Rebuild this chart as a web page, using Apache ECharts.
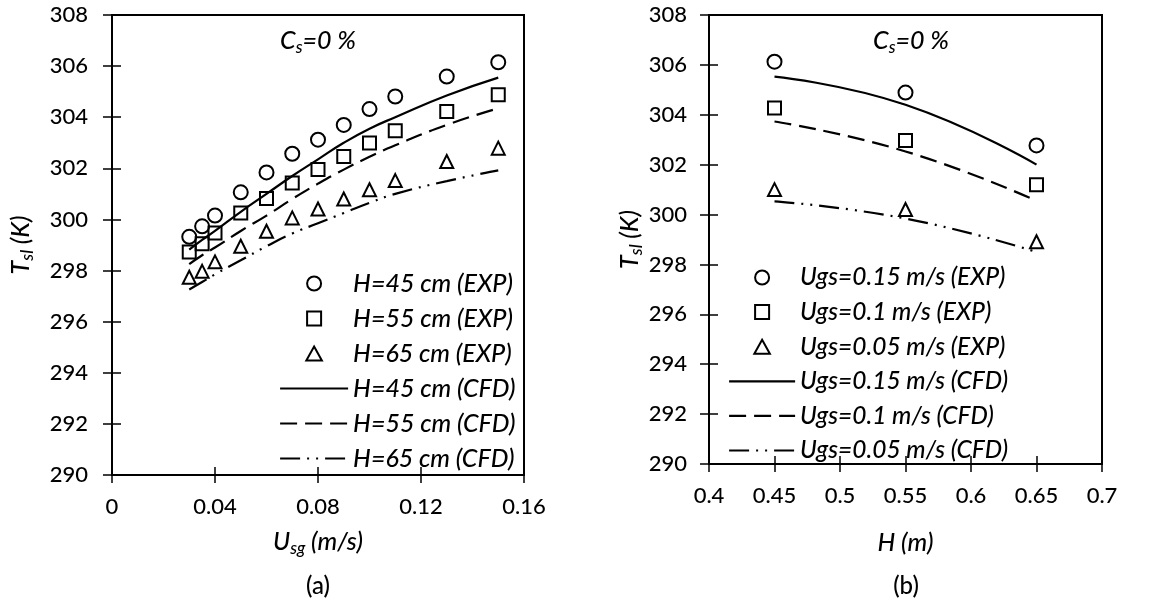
<!DOCTYPE html>
<html>
<head>
<meta charset="utf-8">
<script src="https://cdn.jsdelivr.net/npm/echarts@6/dist/echarts.min.js"></script>
<style>
  html, body { margin: 0; padding: 0; background: #fff; }
  #chart { width: 1151px; height: 604px; }
</style>
</head>
<body>
<div id="chart"></div>
<script>
// (a) slurry temperature vs superficial gas velocity
const usg = [0.03, 0.035, 0.04, 0.05, 0.06, 0.07, 0.08, 0.09, 0.10, 0.11, 0.13, 0.15];
const expH45 = [299.32, 299.73, 300.15, 301.06, 301.84, 302.57, 303.12, 303.70, 304.32, 304.81, 305.59, 306.15];
const expH55 = [298.73, 299.05, 299.47, 300.25, 300.82, 301.43, 301.95, 302.46, 302.99, 303.47, 304.22, 304.88];
const expH65 = [297.74, 297.97, 298.34, 298.95, 299.54, 300.06, 300.41, 300.80, 301.16, 301.52, 302.27, 302.79];
const cfdH45 = [298.82, 299.20, 299.55, 300.30, 301.00, 301.70, 302.35, 303.00, 303.55, 304.00, 304.85, 305.55];
const cfdH55 = [298.25, 298.60, 298.90, 299.55, 300.15, 300.80, 301.40, 301.95, 302.45, 302.90, 303.70, 304.35];
const cfdH65 = [297.26, 297.55, 297.85, 298.40, 298.95, 299.45, 299.85, 300.25, 300.65, 301.00, 301.50, 301.92];

// (b) slurry temperature vs static height
const heights = [0.45, 0.55, 0.65];
const expU015 = [306.13, 304.89, 302.77];
const expU010 = [304.27, 302.97, 301.19];
const expU005 = [301.00, 300.20, 298.91];
const cfdU015 = [305.53, 304.40, 302.00];
const cfdU010 = [303.73, 302.53, 300.55];
const cfdU005 = [300.53, 299.84, 298.50];

const namesA = ['H=45 cm (EXP)', 'H=55 cm (EXP)', 'H=65 cm (EXP)', 'H=45 cm (CFD)', 'H=55 cm (CFD)', 'H=65 cm (CFD)'];
const namesB = ['Ugs=0.15 m/s (EXP)', 'Ugs=0.1 m/s (EXP)', 'Ugs=0.05 m/s (EXP)', 'Ugs=0.15 m/s (CFD)', 'Ugs=0.1 m/s (CFD)', 'Ugs=0.05 m/s (CFD)'];

const FONT = 'Lato';
const WEIGHT = 500;
const INK = '#000';
const TICK_SIZE = 22;
const TEXT_SIZE = 25;
const SUB_SIZE = 17;
const SOLID = 'solid';
const DASH = [17, 8];
const DASH_DOT_DOT = [20, 7, 2, 7, 2, 7];
const LINE_W = 2.2;
const MARK_W = 2;

function pairs(xs, ys) { return xs.map((x, i) => [x, ys[i]]); }
function fmt(v) { return String(Number(v.toFixed(2))); }

const richAxis = {
  i: { fontFamily: FONT, fontWeight: WEIGHT, fontStyle: 'italic', fontSize: TEXT_SIZE, color: INK, lineHeight: 30, verticalAlign: 'middle' },
  sub: { fontFamily: FONT, fontWeight: WEIGHT, fontStyle: 'italic', fontSize: SUB_SIZE, color: INK, lineHeight: 18, verticalAlign: 'bottom' }
};
const nameStyle = { fontFamily: FONT, fontWeight: WEIGHT, fontStyle: 'italic', fontSize: TEXT_SIZE, color: INK, rich: richAxis };

function mainX(grid, min, max, interval, name, gap, labelMargin) {
  return {
    type: 'value', gridIndex: grid, min, max, interval,
    name, nameLocation: 'middle', nameGap: gap, nameTextStyle: nameStyle,
    axisLine: { show: true, lineStyle: { color: INK, width: 2 } },
    axisTick: { show: true, inside: false, length: 8, lineStyle: { color: INK, width: 1.5 } },
    axisLabel: { fontFamily: FONT, fontWeight: WEIGHT, fontSize: TICK_SIZE, color: INK, margin: labelMargin, formatter: fmt },
    splitLine: { show: false }
  };
}
function innerX(grid, min, max, interval) {
  return {
    type: 'value', gridIndex: grid, min, max, interval, position: 'bottom',
    axisLine: { show: false },
    axisTick: { show: true, inside: true, length: 8, lineStyle: { color: INK, width: 1.5 } },
    axisLabel: { show: false }, splitLine: { show: false }
  };
}
function mainY(grid, name, gap, labelMargin) {
  return {
    type: 'value', gridIndex: grid, min: 290, max: 308, interval: 2,
    name, nameLocation: 'middle', nameGap: gap, nameRotate: 90, nameTextStyle: nameStyle,
    axisLine: { show: true, lineStyle: { color: INK, width: 2 } },
    axisTick: { show: true, inside: false, length: 9, lineStyle: { color: INK, width: 1.5 } },
    axisLabel: { fontFamily: FONT, fontWeight: WEIGHT, fontSize: TICK_SIZE, color: INK, margin: labelMargin },
    splitLine: { show: false }
  };
}
function innerY(grid) {
  return {
    type: 'value', gridIndex: grid, min: 290, max: 308, interval: 2, position: 'left',
    axisLine: { show: false },
    axisTick: { show: true, inside: true, length: 9, lineStyle: { color: INK, width: 1.5 } },
    axisLabel: { show: false }, splitLine: { show: false }
  };
}

const HOLLOW = { color: 'rgba(255,255,255,0)', borderColor: INK, borderWidth: MARK_W, opacity: 1 };
const SQUARE = 'path://M0,0H10V10H0Z';
const TRIANGLE = 'path://M5,0L10,9H0Z';

function expSeries(name, data, symbol, xi, yi) {
  return {
    name, type: 'scatter', xAxisIndex: xi, yAxisIndex: yi, data,
    symbol, symbolSize: symbol === 'circle' ? 14 : 13,
    itemStyle: HOLLOW, z: 3, silent: true
  };
}
function cfdSeries(name, data, dash, xi, yi) {
  return {
    name, type: 'line', xAxisIndex: xi, yAxisIndex: yi, data,
    smooth: true, symbol: 'none', showSymbol: false,
    lineStyle: { color: INK, width: LINE_W, type: dash, opacity: 1 },
    itemStyle: { color: INK }, z: 2, silent: true
  };
}

function legendItems(names) {
  const icons = ['circle', SQUARE, TRIANGLE];
  const dashes = [SOLID, DASH, DASH_DOT_DOT];
  return names.map((n, i) => i < 3
    ? { name: n, icon: icons[i], itemStyle: { color: 'rgba(255,255,255,0)', borderColor: INK, borderWidth: MARK_W, opacity: 1 } }
    : { name: n, icon: 'line', itemStyle: { color: INK, borderColor: INK, borderWidth: LINE_W, borderType: dashes[i - 3], opacity: 1 } });
}
function legendBox(names, left, top, itemWidth, gap, size) {
  return {
    data: legendItems(names), orient: 'vertical', left, top, padding: 0,
    itemWidth, itemHeight: 14, itemGap: gap, selectedMode: false,
    textStyle: { fontFamily: FONT, fontWeight: WEIGHT, fontStyle: 'italic', fontSize: size, color: INK, lineHeight: 24 }
  };
}

function csLabel(x, y) {
  return {
    type: 'text', x, y, silent: true,
    style: {
      text: '{i|C}{s|s}{i|=0 %}', align: 'center', verticalAlign: 'middle',
      fontFamily: FONT, fontWeight: WEIGHT, fontStyle: 'italic', fontSize: TEXT_SIZE, fill: INK,
      rich: {
        i: { fontFamily: FONT, fontWeight: WEIGHT, fontStyle: 'italic', fontSize: TEXT_SIZE, fill: INK, lineHeight: 30, verticalAlign: 'middle' },
        s: { fontFamily: FONT, fontWeight: WEIGHT, fontStyle: 'italic', fontSize: SUB_SIZE, fill: INK, lineHeight: 18, verticalAlign: 'bottom' }
      }
    }
  };
}
function panelTag(text, x, y) {
  return {
    type: 'text', x, y, silent: true,
    style: { text, fontFamily: FONT, fontWeight: WEIGHT, fontSize: 24, fill: INK, align: 'center', verticalAlign: 'middle' }
  };
}

const chart = echarts.init(document.getElementById('chart'), null, { renderer: 'canvas' });
chart.setOption({
  animation: false,
  backgroundColor: '#fff',
  grid: [
    { left: 112, right: 627, top: 15, bottom: 129, show: true, borderColor: INK, borderWidth: 2, backgroundColor: 'transparent' },
    { left: 709, right: 49, top: 15, bottom: 140, show: true, borderColor: INK, borderWidth: 2, backgroundColor: 'transparent' }
  ],
  xAxis: [
    mainX(0, 0, 0.16, 0.04, '{i|U}{sub|sg}{i| (m/s)}', 52, 21),
    innerX(0, 0, 0.16, 0.04),
    mainX(1, 0.4, 0.7, 0.05, '{i|H (m)}', 64, 21),
    innerX(1, 0.4, 0.7, 0.05)
  ],
  yAxis: [
    mainY(0, '{i|T}{sub|sl}{i| (K)}', 76, 24),
    innerY(0),
    mainY(1, '{i|T}{sub|sl}{i| (K)}', 63, 22),
    innerY(1)
  ],
  legend: [
    legendBox(namesA, 279, 271, 68, 10, 25),
    legendBox(namesB, 728, 265, 66, 9.6, 24.5)
  ],
  series: [
    expSeries(namesA[0], pairs(usg, expH45), 'circle', 0, 0),
    expSeries(namesA[1], pairs(usg, expH55), SQUARE, 0, 0),
    expSeries(namesA[2], pairs(usg, expH65), TRIANGLE, 0, 0),
    cfdSeries(namesA[3], pairs(usg, cfdH45), SOLID, 0, 0),
    cfdSeries(namesA[4], pairs(usg, cfdH55), DASH, 0, 0),
    cfdSeries(namesA[5], pairs(usg, cfdH65), DASH_DOT_DOT, 0, 0),
    expSeries(namesB[0], pairs(heights, expU015), 'circle', 2, 2),
    expSeries(namesB[1], pairs(heights, expU010), SQUARE, 2, 2),
    expSeries(namesB[2], pairs(heights, expU005), TRIANGLE, 2, 2),
    cfdSeries(namesB[3], pairs(heights, cfdU015), SOLID, 2, 2),
    cfdSeries(namesB[4], pairs(heights, cfdU010), DASH, 2, 2),
    cfdSeries(namesB[5], pairs(heights, cfdU005), DASH_DOT_DOT, 2, 2)
  ],
  graphic: [
    csLabel(318, 41),
    csLabel(911, 41),
    panelTag('(a)', 318, 586),
    panelTag('(b)', 906, 586)
  ]
});
</script>
</body>
</html>
